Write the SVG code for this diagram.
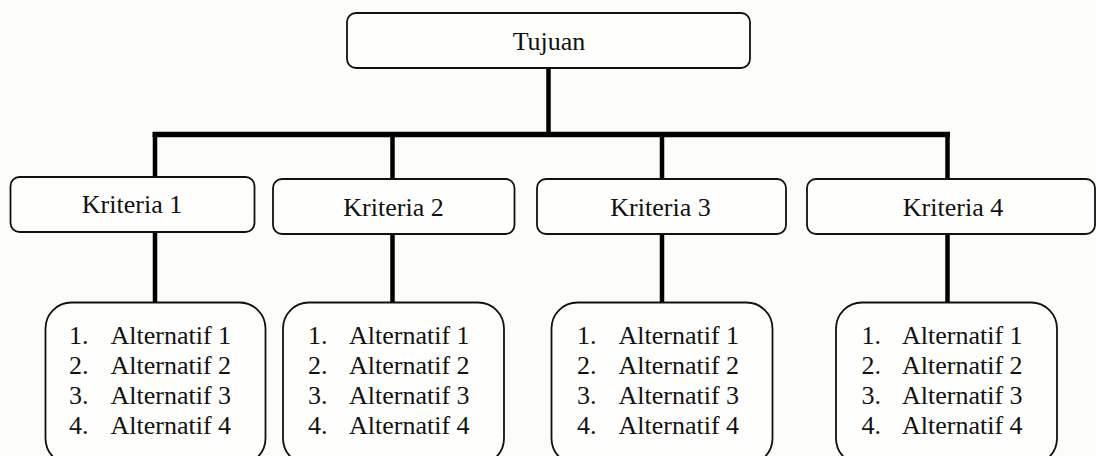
<svg xmlns="http://www.w3.org/2000/svg" width="1096" height="456" viewBox="0 0 1096 456">
  <style>
    .box { fill: #fefefc; stroke: #111; stroke-width: 1.8; }
    .lbl { font-family: "Liberation Serif", "Times New Roman", serif; font-size: 26px; fill: #111; }
    .mid { text-anchor: middle; }
    .wire { stroke: #000; stroke-width: 4.5; fill: none; }
    .bar { stroke: #000; stroke-width: 5.5; fill: none; }
  </style>

  <rect x="0" y="0" width="1096" height="456" fill="#fcfcf8"/>

  <!-- connectors -->
  <g id="connectors">
    <line class="wire" x1="548.5" y1="68" x2="548.5" y2="135"/>
    <line class="bar" x1="152.5" y1="134.5" x2="950" y2="134.5"/>
    <line class="wire" x1="155" y1="134.5" x2="155" y2="177"/>
    <line class="wire" x1="392.5" y1="134.5" x2="392.5" y2="179"/>
    <line class="wire" x1="662" y1="134.5" x2="662" y2="179"/>
    <line class="wire" x1="947.5" y1="134.5" x2="947.5" y2="179"/>
    <line class="wire" x1="155" y1="233" x2="155" y2="303"/>
    <line class="wire" x1="392.5" y1="235" x2="392.5" y2="303"/>
    <line class="wire" x1="662" y1="235" x2="662" y2="303"/>
    <line class="wire" x1="947.5" y1="235" x2="947.5" y2="303"/>
  </g>

  <!-- goal -->
  <g id="tujuan">
    <rect class="box" x="347" y="13" width="403" height="55" rx="9"/>
    <text class="lbl mid" x="549" y="50">Tujuan</text>
  </g>

  <!-- criteria -->
  <g id="kriteria1">
    <rect class="box" x="10.5" y="177" width="244" height="55" rx="9"/>
    <text class="lbl mid" x="132" y="213">Kriteria 1</text>
  </g>
  <g id="kriteria2">
    <rect class="box" x="273" y="179" width="241.5" height="55" rx="9"/>
    <text class="lbl mid" x="393.5" y="216">Kriteria 2</text>
  </g>
  <g id="kriteria3">
    <rect class="box" x="537" y="179" width="249" height="55" rx="9"/>
    <text class="lbl mid" x="660.5" y="216">Kriteria 3</text>
  </g>
  <g id="kriteria4">
    <rect class="box" x="807" y="179" width="288" height="55" rx="9"/>
    <text class="lbl mid" x="953" y="216">Kriteria 4</text>
  </g>

  <!-- alternatives -->
  <g id="alternatif1">
    <rect class="box" x="45.5" y="302.5" width="220" height="162" rx="26"/>
    <text class="lbl" x="69" y="344">1.</text><text class="lbl" x="110.5" y="344">Alternatif 1</text>
    <text class="lbl" x="69" y="374">2.</text><text class="lbl" x="110.5" y="374">Alternatif 2</text>
    <text class="lbl" x="69" y="404">3.</text><text class="lbl" x="110.5" y="404">Alternatif 3</text>
    <text class="lbl" x="69" y="434">4.</text><text class="lbl" x="110.5" y="434">Alternatif 4</text>
  </g>
  <g id="alternatif2">
    <rect class="box" x="283" y="302.5" width="221" height="162" rx="26"/>
    <text class="lbl" x="308" y="344">1.</text><text class="lbl" x="349" y="344">Alternatif 1</text>
    <text class="lbl" x="308" y="374">2.</text><text class="lbl" x="349" y="374">Alternatif 2</text>
    <text class="lbl" x="308" y="404">3.</text><text class="lbl" x="349" y="404">Alternatif 3</text>
    <text class="lbl" x="308" y="434">4.</text><text class="lbl" x="349" y="434">Alternatif 4</text>
  </g>
  <g id="alternatif3">
    <rect class="box" x="551.5" y="302.5" width="221" height="162" rx="26"/>
    <text class="lbl" x="577" y="344">1.</text><text class="lbl" x="618.5" y="344">Alternatif 1</text>
    <text class="lbl" x="577" y="374">2.</text><text class="lbl" x="618.5" y="374">Alternatif 2</text>
    <text class="lbl" x="577" y="404">3.</text><text class="lbl" x="618.5" y="404">Alternatif 3</text>
    <text class="lbl" x="577" y="434">4.</text><text class="lbl" x="618.5" y="434">Alternatif 4</text>
  </g>
  <g id="alternatif4">
    <rect class="box" x="836" y="302.5" width="221" height="162" rx="26"/>
    <text class="lbl" x="861.5" y="344">1.</text><text class="lbl" x="902" y="344">Alternatif 1</text>
    <text class="lbl" x="861.5" y="374">2.</text><text class="lbl" x="902" y="374">Alternatif 2</text>
    <text class="lbl" x="861.5" y="404">3.</text><text class="lbl" x="902" y="404">Alternatif 3</text>
    <text class="lbl" x="861.5" y="434">4.</text><text class="lbl" x="902" y="434">Alternatif 4</text>
  </g>
</svg>
